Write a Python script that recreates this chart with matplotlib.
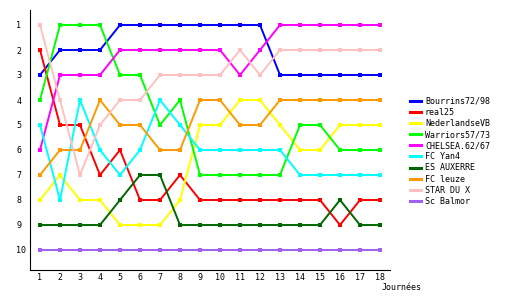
import matplotlib
matplotlib.use("Agg")
import matplotlib.pyplot as plt
from matplotlib.lines import Line2D

journees = list(range(1, 19))

teams = ["Bourrins72/98", "real25", "NederlandseVB", "Warriors57/73", "CHELSEA.62/67",
         "FC Yan4", "ES AUXERRE", "FC leuze", "STAR DU X", "Sc Balmor"]
colors = ["#0000ff", "#ff0000", "#ffff00", "#00ff00", "#ff00ff",
          "#00ffff", "#006600", "#ff9900", "#ffc0c0", "#a060f0"]

bourrins = [3, 2, 2, 2, 1, 1, 1, 1, 1, 1, 1, 1, 3, 3, 3, 3, 3, 3]
real25 = [2, 5, 5, 7, 6, 8, 8, 7, 8, 8, 8, 8, 8, 8, 8, 9, 8, 8]
nederlandse = [8, 7, 8, 8, 9, 9, 9, 8, 5, 5, 4, 4, 5, 6, 6, 5, 5, 5]
warriors = [4, 1, 1, 1, 3, 3, 5, 4, 7, 7, 7, 7, 7, 5, 5, 6, 6, 6]
chelsea = [6, 3, 3, 3, 2, 2, 2, 2, 2, 2, 3, 2, 1, 1, 1, 1, 1, 1]
fc_yan4 = [5, 8, 4, 6, 7, 6, 4, 5, 6, 6, 6, 6, 6, 7, 7, 7, 7, 7]
auxerre = [9, 9, 9, 9, 8, 7, 7, 9, 9, 9, 9, 9, 9, 9, 9, 8, 9, 9]
leuze = [7, 6, 6, 4, 5, 5, 6, 6, 4, 4, 5, 5, 4, 4, 4, 4, 4, 4]
star_du_x = [1, 4, 7, 5, 4, 4, 3, 3, 3, 3, 2, 3, 2, 2, 2, 2, 2, 2]
balmor = [10] * 18

ranks = [bourrins, real25, nederlandse, warriors, chelsea,
         fc_yan4, auxerre, leuze, star_du_x, balmor]

plt.rcParams['font.family'] = ['DejaVu Sans Mono']
plt.rcParams['font.size'] = 6

fig = plt.figure(figsize=(5.3, 3.0), dpi=100)
ax = fig.add_axes([30 / 530, 30 / 300, 360 / 530, 260 / 300])

for name, col, r in zip(teams, colors, ranks):
    ax.plot(journees, r, color=col, lw=1.4, marker='s', markersize=2.2,
            markeredgewidth=0, label=name)

ax.set_xlim(0.5, 18.5)
ax.set_ylim(10.8, 0.4)
ax.set_xticks(journees)
ax.set_yticks(range(1, 11))
ax.spines['top'].set_visible(False)
ax.spines['right'].set_visible(False)
ax.tick_params(axis='x', length=0, pad=2)
ax.tick_params(axis='y', length=0, pad=10)
for lbl in ax.get_yticklabels():
    lbl.set_horizontalalignment('left')

fig.text(382 / 530, 1 - 287 / 300, "Journées", fontsize=6, va='center', ha='left')

# legend: plain lines, no markers
handles = [Line2D([], [], color=c, lw=2.2) for c in colors]
ax.legend(handles, teams, loc='upper left', bbox_to_anchor=(410 / 530, 1 - 97 / 300),
          bbox_transform=fig.transFigure, frameon=False, handlelength=1.3,
          handletextpad=0.5, labelspacing=0.25, borderpad=0, borderaxespad=0)

fig.savefig("out.png", dpi=100)
